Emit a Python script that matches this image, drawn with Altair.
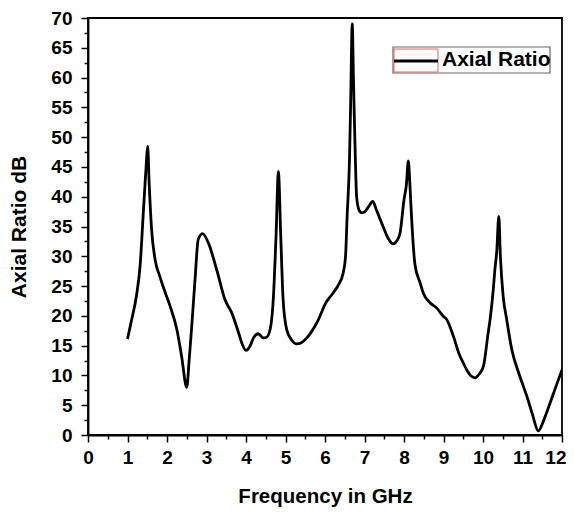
import altair as alt
import pandas as pd

freq = [1.0, 1.1, 1.23, 1.32, 1.40, 1.44, 1.48, 1.51, 1.55, 1.61, 1.70, 1.82, 1.95, 2.08, 2.25, 2.37, 2.50,
        2.56, 2.62, 2.71, 2.79, 2.90, 3.05, 3.26, 3.47, 3.64, 3.81, 3.92, 4.00, 4.10, 4.19, 4.31, 4.44,
        4.52, 4.61, 4.69, 4.76, 4.82, 4.88, 4.94, 5.03, 5.15, 5.28, 5.40, 5.54, 5.79, 6.04, 6.20, 6.34,
        6.46, 6.52, 6.56, 6.62, 6.65, 6.69, 6.72, 6.74, 6.77, 6.80, 6.86, 6.93, 7.01, 7.10, 7.21, 7.30,
        7.47, 7.60, 7.73, 7.82, 7.90, 8.00, 8.06, 8.11, 8.15, 8.19, 8.28, 8.41, 8.49, 8.66, 8.83, 9.00,
        9.08, 9.25, 9.40, 9.50, 9.60, 9.70, 9.80, 9.90, 10.01, 10.13, 10.18, 10.26, 10.30, 10.35, 10.40,
        10.44, 10.51, 10.60, 10.73, 10.90, 11.02, 11.11, 11.25, 11.40, 11.55, 11.70, 11.85, 12.00]
axial = [16.1, 19.2, 23.5, 28.5, 37.3, 41.7, 46.0, 48.5, 42.0, 34.5, 29.4, 26.6, 24.0, 21.6, 17.7, 13.2, 8.0,
         12.5, 17.7, 26.1, 32.8, 33.8, 32.2, 27.7, 22.7, 20.5, 17.2, 15.0, 14.2, 14.9, 16.3, 17.0, 16.3,
         16.4, 17.7, 22.7, 33.3, 44.2, 33.3, 22.7, 17.7, 16.0, 15.3, 15.5, 16.3, 18.8, 22.4, 23.8, 25.2,
         27.2, 30.0, 36.7, 46.2, 56.0, 69.0, 60.0, 54.0, 46.0, 40.0, 37.8, 37.3, 37.5, 38.3, 39.2, 37.8,
         35.0, 33.0, 32.1, 32.6, 33.9, 39.5, 42.0, 46.0, 42.0, 36.7, 28.5, 25.5, 23.8, 22.2, 21.3, 19.9,
         19.4, 16.6, 13.5, 12.1, 10.8, 9.9, 9.6, 10.2, 11.5, 17.1, 19.4, 24.4, 27.7, 31.0, 36.7,
         30.0, 23.3, 19.4, 14.3, 10.5, 8.2, 6.5, 3.5, 0.7, 2.7, 5.4, 8.2, 10.9]
series = ["Axial Ratio"]

x_ticks = [i * 0.5 for i in range(25)]
y_ticks = [i * 2.5 for i in range(29)]

df = pd.DataFrame({"freq": freq, "ar": axial})
leg = pd.DataFrame({"series": series})

FONT = "Liberation Sans"

line = alt.Chart(df).mark_line(strokeWidth=2.8, color="black", clip=True,
                               interpolate="monotone").encode(
    x=alt.X("freq:Q", title="Frequency in GHz",
            scale=alt.Scale(domain=[0, 12], nice=False, zero=False),
            axis=alt.Axis(values=x_ticks, grid=False, labelOverlap=False, labelFlush=False,
                          labelExpr="datum.value % 1 === 0 ? format(datum.value, 'd') : ''",
                          labelAlign={"condition": {"test": "datum.value === 12", "value": "right"},
                                      "value": "center"},
                          labelOffset={"condition": {"test": "datum.value === 12", "value": 4},
                                       "value": 0},
                          tickSize={"condition": {"test": "datum.value % 1 === 0", "value": 7}, "value": 4},
                          labelPadding=6, titlePadding=19, titleFontSize=20.5)),
    y=alt.Y("ar:Q", title="Axial Ratio dB",
            scale=alt.Scale(domain=[0, 70], nice=False),
            axis=alt.Axis(values=y_ticks, grid=False, labelOverlap=False, labelFlush=False,
                          labelExpr="datum.value % 5 === 0 ? format(datum.value, 'd') : ''",
                          tickSize={"condition": {"test": "datum.value % 5 === 0", "value": 7}, "value": 4},
                          labelPadding=9, titlePadding=21, titleFontSize=21)),
)

leg_box = alt.Chart(leg).mark_rect(fill="white", stroke="#666", strokeWidth=1.2).encode(
    x=alt.value(305), x2=alt.value(462), y=alt.value(29), y2=alt.value(55)
)
leg_red = alt.Chart(leg).mark_rect(fill=None, stroke="#f06060", strokeWidth=1).encode(
    x=alt.value(306), x2=alt.value(350), y=alt.value(31), y2=alt.value(54)
)
leg_line = alt.Chart(leg).mark_rule(color="black", strokeWidth=3.2).encode(
    x=alt.value(306), x2=alt.value(350), y=alt.value(43)
)
leg_text = alt.Chart(leg).mark_text(font=FONT, fontSize=21, fontWeight="bold", color="black",
                                    align="left", baseline="middle").encode(
    x=alt.value(354), y=alt.value(42), text="series:N"
)

chart = alt.layer(line, leg_box, leg_red, leg_line, leg_text).properties(
    width=474, height=417,
    background="white",
    autosize=alt.AutoSizeParams(type="none"),
    padding={"left": 80, "top": 10, "right": 4, "bottom": 72},
).configure_view(stroke="black", strokeWidth=1.8).configure_axis(
    domainColor="black", domainWidth=1.8, tickColor="black", tickWidth=1.5,
    labelFont=FONT, labelFontSize=19, labelFontWeight="bold", labelColor="black",
    titleFont=FONT, titleFontSize=20, titleFontWeight="bold", titleColor="black",
)

chart.save("out.html", embed_options={"renderer": "svg", "actions": False})
